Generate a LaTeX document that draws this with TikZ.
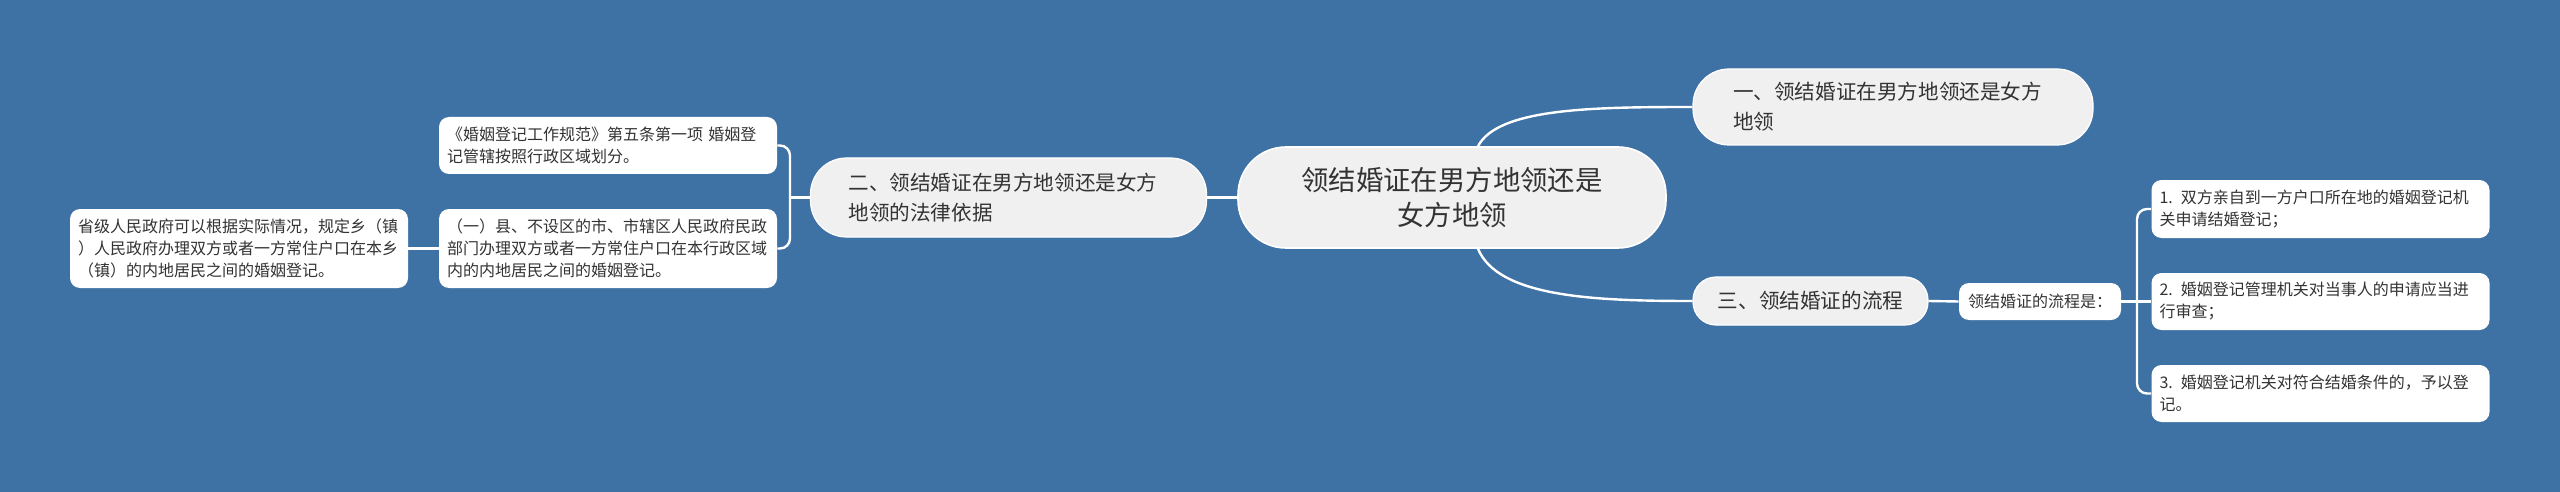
\documentclass[tikz,border=0pt]{standalone}
\usepackage{fontspec}
\newfontfamily\cjk{Noto Sans CJK SC}
\usepackage{tikz}
\usetikzlibrary{calc}
\definecolor{mapblue}{RGB}{62,114,164}
\definecolor{topicgray}{RGB}{240,240,240}
\definecolor{inkgray}{RGB}{51,51,51}

\tikzset{
  rootnode/.style={fill=topicgray, draw=white, line width=0.8pt, rounded corners=24pt,
    minimum width=214pt, minimum height=50.5pt, align=center, text=inkgray,
    font=\cjk\fontsize{13.7}{17.5}\selectfont},
  topicbase/.style={fill=topicgray, draw=white, line width=0.6pt, rounded corners=18pt,
    minimum height=38pt, text=inkgray, font=\cjk\fontsize{10.3}{15}\selectfont},
  topicnode/.style={topicbase, text width=160pt, inner xsep=19pt, align=left},
  leafbase/.style={fill=white, rounded corners=5pt, text=inkgray,
    font=\cjk\fontsize{8}{11}\selectfont},
  leafnode/.style={leafbase, text width=161pt, inner xsep=4pt, align=left},
  link/.style={white, line width=1.2pt},
}

\begin{document}
\begin{tikzpicture}[x=0.5pt,y=-0.5pt]
    % background
    \fill[mapblue] (0,0) rectangle (2560,492);
    \useasboundingbox (0,0) rectangle (2560,492);

    % centre
    \node[rootnode] (root) at (1452,197.5) {领结婚证在男方地领还是\\女方地领};

    % topics
    \node[topicnode, minimum width=200pt] (t1) at (1893,107) {一、领结婚证在男方地领还是女方\\地领};
    \node[topicnode, minimum height=39.5pt] (law) at (1008.5,197.5) {二、领结婚证在男方地领还是女方\\地领的法律依据};
    \node[topicbase, minimum width=117.5pt, minimum height=24pt, rounded corners=11.5pt] (t3) at (1810.5,301) {三、领结婚证的流程};

    % legal basis
    \node[leafnode, minimum height=28.5pt] (std) at (608,145.5) {《婚姻登记工作规范》第五条第一项 婚姻登\\记管辖按照行政区域划分。};
    \node[leafnode, minimum height=39.5pt] (county) at (608,248.5) {（一）县、不设区的市、市辖区人民政府民政\\部门办理双方或者一方常住户口在本行政区域\\内的内地居民之间的婚姻登记。};
    \node[leafnode, minimum height=39.5pt] (prov) at (239,248.5) {省级人民政府可以根据实际情况，规定乡（镇\\）人民政府办理双方或者一方常住户口在本乡\\（镇）的内地居民之间的婚姻登记。};

    % procedure
    \node[leafbase, minimum width=81pt, minimum height=18.5pt] (flow) at (2040,301.5) {领结婚证的流程是：};
    \node[leafnode, minimum height=29pt] (s1) at (2320.5,209) {1. 双方亲自到一方户口所在地的婚姻登记机\\关申请结婚登记；};
    \node[leafnode, minimum height=28.5pt] (s2) at (2320.5,301.5) {2. 婚姻登记管理机关对当事人的申请应当进\\行审查；};
    \node[leafnode, minimum height=28.5pt] (s3) at (2320.5,393.5) {3. 婚姻登记机关对符合结婚条件的，予以登\\记。};

    % joints
    \coordinate (lj) at (790,197.5);
    \coordinate (rj) at (2137,301.5);

    % links
    \draw[link] (root.west) -- (law.east);
    \draw[link] (law.west) -- (lj);
    \draw[link, rounded corners=5pt] (std.east) -| (lj) |- (county.east);
    \draw[link] (county.west) -- (prov.east);
    \draw[link] ([xshift=13pt]root.north) .. controls +(20,-38) and +(-100,0) .. (t1.west);
    \draw[link] ([xshift=13pt]root.south) .. controls +(20,48) and +(-100,0) .. (t3.west);
    \draw[link] (t3.east) -- (flow.west);
    \draw[link] (flow.east) -- (s2.west);
    \draw[link, rounded corners=5pt] (s1.west) -| (rj) |- (s3.west);
\end{tikzpicture}
\end{document}
